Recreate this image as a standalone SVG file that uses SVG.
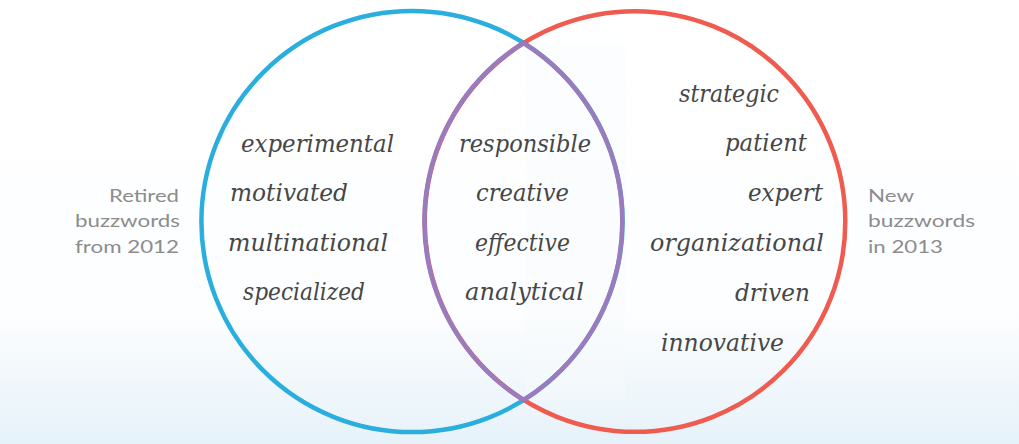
<svg xmlns="http://www.w3.org/2000/svg" width="1019" height="444" viewBox="0 0 1019 444">
<defs>
<linearGradient id="bg" x1="0" y1="0" x2="0" y2="1">
<stop offset="0" stop-color="#ffffff"/>
<stop offset="0.7" stop-color="#fdfeff"/>
<stop offset="1" stop-color="#e6f2f9"/>
</linearGradient>
<style>
.w{font-family:"DejaVu Serif","Liberation Serif",serif;font-style:italic;font-size:23.5px;fill:#474747}
.l{font-family:Lato,"Noto Sans","Liberation Sans",sans-serif;font-size:18px;fill:#8c8c8c}
.ring{fill:none;stroke-width:4.5}
</style>
</defs>
<rect width="1019" height="444" fill="url(#bg)"/>
<rect x="525" y="45" width="100" height="355" fill="#f7f9fc" opacity="0.4"/>

<g id="label-2012">
<text class="l" x="179" y="202" text-anchor="end" textLength="70" lengthAdjust="spacingAndGlyphs">Retired</text>
<text class="l" x="180" y="227" text-anchor="end" textLength="105" lengthAdjust="spacingAndGlyphs">buzzwords</text>
<text class="l" x="179" y="253" text-anchor="end" textLength="104" lengthAdjust="spacingAndGlyphs">from 2012</text>
</g>
<g id="label-2013">
<text class="l" x="868" y="202" textLength="46" lengthAdjust="spacingAndGlyphs">New</text>
<text class="l" x="868" y="227" textLength="107" lengthAdjust="spacingAndGlyphs">buzzwords</text>
<text class="l" x="868" y="253" textLength="75" lengthAdjust="spacingAndGlyphs">in 2013</text>
</g>

<g id="set-2012">
<circle class="ring" cx="412" cy="221.5" r="210.6" stroke="#2aaedd"/>
<text class="w" x="241" y="152" textLength="153" lengthAdjust="spacingAndGlyphs">experimental</text>
<text class="w" x="230" y="201" textLength="118" lengthAdjust="spacingAndGlyphs">motivated</text>
<text class="w" x="228" y="251" textLength="160" lengthAdjust="spacingAndGlyphs">multinational</text>
<text class="w" x="243" y="300" textLength="122" lengthAdjust="spacingAndGlyphs">specialized</text>
</g>

<g id="set-2013">
<circle class="ring" cx="635" cy="221.5" r="210.3" stroke="#ef5b4f"/>
<text class="w" x="679" y="102" textLength="100" lengthAdjust="spacingAndGlyphs">strategic</text>
<text class="w" x="725" y="151" textLength="82" lengthAdjust="spacingAndGlyphs">patient</text>
<text class="w" x="748" y="201" textLength="75" lengthAdjust="spacingAndGlyphs">expert</text>
<text class="w" x="650" y="251" textLength="174" lengthAdjust="spacingAndGlyphs">organizational</text>
<text class="w" x="735" y="301" textLength="75" lengthAdjust="spacingAndGlyphs">driven</text>
<text class="w" x="661" y="351" textLength="123" lengthAdjust="spacingAndGlyphs">innovative</text>
</g>

<g id="overlap">
<path class="ring" stroke="#9a7bbd" d="M523.5,43 A210.6,210.6 0 0 1 523.5,400"/>
<path class="ring" stroke="#9a7bbd" d="M523.5,43 A210.3,210.3 0 0 0 523.5,400"/>
<text class="w" x="459" y="152" textLength="132" lengthAdjust="spacingAndGlyphs">responsible</text>
<text class="w" x="476" y="201" textLength="93" lengthAdjust="spacingAndGlyphs">creative</text>
<text class="w" x="475" y="251" textLength="95" lengthAdjust="spacingAndGlyphs">effective</text>
<text class="w" x="465" y="300" textLength="119" lengthAdjust="spacingAndGlyphs">analytical</text>
</g>

<g id="connectors"/>
</svg>
